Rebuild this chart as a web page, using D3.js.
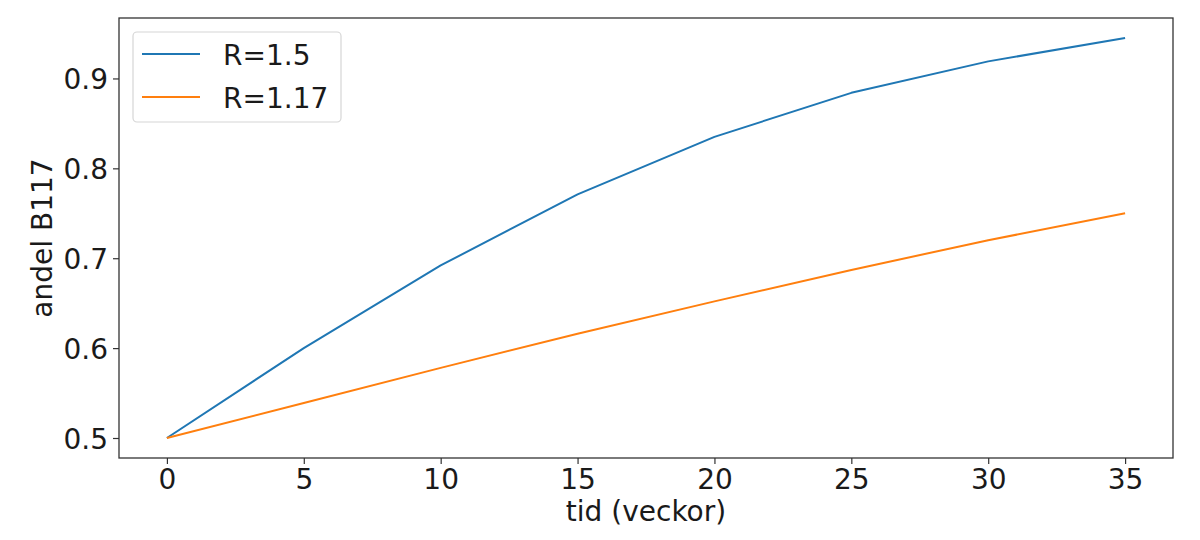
<!doctype html>
<html>
<head>
<meta charset="utf-8">
<title>andel B117</title>
<style>
  body { margin: 0; background: #fff; }
  svg text { font-family: "DejaVu Sans", sans-serif; fill: #1a1a1a; }
</style>
</head>
<body>
<div id="here"></div>
<script src="https://d3js.org/d3.v7.min.js"></script>
<script>
  // data
  var weeks = [0, 5, 10, 15, 20, 25, 30, 35];
  var seriesNames = ['R=1.5', 'R=1.17'];
  var seriesColors = ['#1f77b4', '#ff7f0e'];
  var valuesFast = [0.500, 0.600, 0.692, 0.771, 0.835, 0.884, 0.919, 0.945];
  var valuesSlow = [0.500, 0.539, 0.578, 0.616, 0.652, 0.687, 0.720, 0.750];
  var xTicks = [0, 5, 10, 15, 20, 25, 30, 35];
  var yTicks = [0.5, 0.6, 0.7, 0.8, 0.9];
  var xLabel = 'tid (veckor)';
  var yLabel = 'andel B117';

  var w = 1200, h = 540;
  var mLeft = 119, mRight = 1173, mTop = 18, mBottom = 458;
  var fs = 28;

  var series = [valuesFast, valuesSlow];

  var x = d3.scaleLinear().domain([-1.75, 36.75]).range([mLeft, mRight]);
  var yMin = 0.5, yMax = 0.945, pad = (yMax - yMin) * 0.05;
  var y = d3.scaleLinear().domain([yMin - pad, yMax + pad]).range([mBottom, mTop]);

  var svg = d3.select('#here').append('svg')
    .attr('width', w)
    .attr('height', h);

  // axes
  var xAxis = svg.append('g')
    .attr('transform', 'translate(0,' + mBottom + ')')
    .call(d3.axisBottom(x).tickValues(xTicks).tickSize(6).tickFormat(d3.format('d')));
  var yAxis = svg.append('g')
    .attr('transform', 'translate(' + mLeft + ',0)')
    .call(d3.axisLeft(y).tickValues(yTicks).tickSize(6).tickFormat(d3.format('.1f')));

  [xAxis, yAxis].forEach(function(a) {
    a.select('.domain').remove();
    a.selectAll('line').attr('stroke', '#333').attr('stroke-width', 1.2);
    a.selectAll('text').style('font-size', fs + 'px').attr('fill', '#1a1a1a').style('font-family', '"DejaVu Sans", sans-serif');
  });
  xAxis.selectAll('text').attr('y', 31).attr('dy', null);
  yAxis.selectAll('text').attr('x', -11).attr('dy', '0.36em');

  // series lines
  var line = d3.line()
    .x(function(d, i) { return x(weeks[i]); })
    .y(function(d) { return y(d); });

  svg.selectAll('.serie')
    .data(series)
    .enter().append('path')
    .attr('class', 'serie')
    .attr('d', line)
    .attr('fill', 'none')
    .attr('stroke', function(d, i) { return seriesColors[i]; })
    .attr('stroke-width', 2)
    .attr('stroke-linejoin', 'round');

  // frame
  svg.append('rect')
    .attr('x', mLeft).attr('y', mTop)
    .attr('width', mRight - mLeft).attr('height', mBottom - mTop)
    .attr('fill', 'none')
    .attr('stroke', '#333')
    .attr('stroke-width', 1.3);

  // axis labels
  svg.append('text')
    .attr('x', (mLeft + mRight) / 2)
    .attr('y', 521)
    .attr('text-anchor', 'middle')
    .style('font-size', fs + 'px')
    .text(xLabel);

  svg.append('text')
    .attr('transform', 'translate(52,' + (mTop + mBottom) / 2 + ') rotate(-90)')
    .attr('text-anchor', 'middle')
    .style('font-size', fs + 'px')
    .text(yLabel);

  // legend
  var legend = svg.append('g');
  legend.append('rect')
    .attr('x', 133).attr('y', 32)
    .attr('width', 208).attr('height', 90)
    .attr('rx', 4)
    .attr('fill', 'white').attr('fill-opacity', 0.8)
    .attr('stroke', '#d6d6d6').attr('stroke-width', 1.2);

  var item = legend.selectAll('.item')
    .data(seriesNames)
    .enter().append('g')
    .attr('transform', function(d, i) { return 'translate(0,' + (54 + i * 43) + ')'; });
  item.append('line')
    .attr('x1', 142).attr('x2', 200)
    .attr('y1', 0).attr('y2', 0)
    .attr('stroke', function(d, i) { return seriesColors[i]; })
    .attr('stroke-width', 2);
  item.append('text')
    .attr('x', 223).attr('y', 11)
    .style('font-size', fs + 'px')
    .text(function(d) { return d; });
</script>
</body>
</html>
